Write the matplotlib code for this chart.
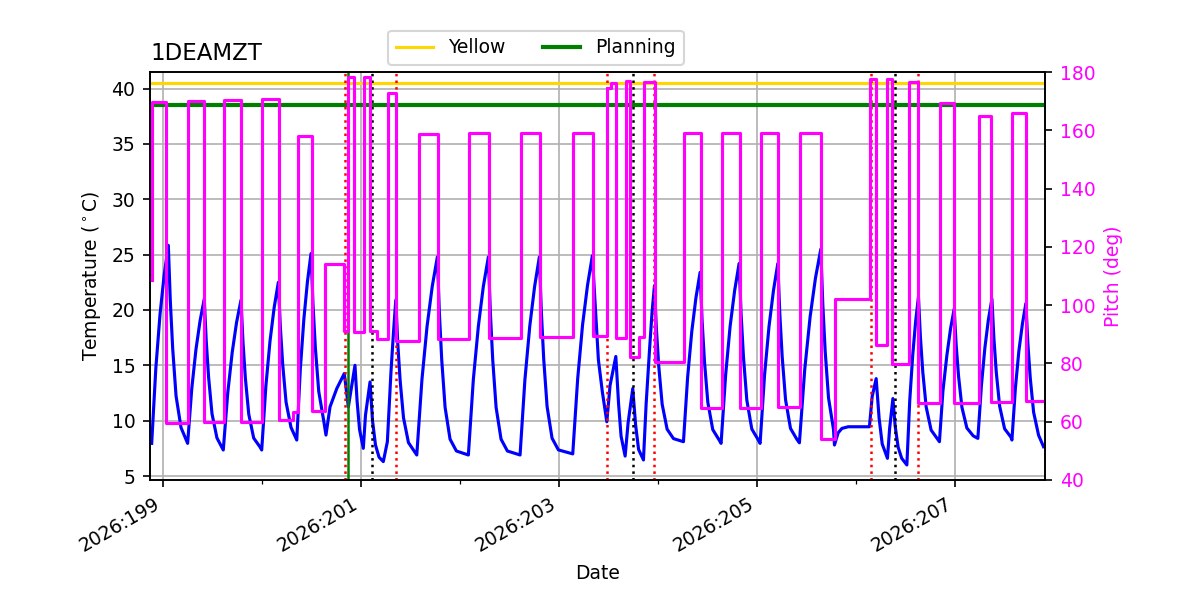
import matplotlib
matplotlib.use("Agg")
import matplotlib.pyplot as plt
from matplotlib.ticker import FuncFormatter

plt.rcParams['font.size'] = 9

# 1DEAMZT temperature, time in day-of-year 2026
temp_time = [198.886, 198.928, 198.970, 199.012, 199.054, 199.074, 199.098, 199.132, 199.182, 199.249,
             199.291, 199.333, 199.375, 199.417, 199.437, 199.461, 199.495, 199.545, 199.609,
             199.654, 199.699, 199.743, 199.788, 199.808, 199.832, 199.866, 199.916, 199.980, 199.997,
             200.039, 200.081, 200.123, 200.165, 200.185, 200.209, 200.243, 200.293, 200.351,
             200.387, 200.423, 200.459, 200.495, 200.515, 200.539, 200.573, 200.623, 200.646,
             200.687, 200.755, 200.831, 200.872, 200.939, 200.960, 200.985, 201.023,
             201.045, 201.091, 201.116, 201.146, 201.182, 201.225, 201.266,
             201.303, 201.328, 201.351, 201.371, 201.395, 201.429, 201.479, 201.543, 201.563,
             201.615, 201.667, 201.719, 201.771, 201.791, 201.815, 201.849, 201.899, 201.963, 202.084,
             202.134, 202.185, 202.235, 202.286, 202.306, 202.330, 202.364, 202.414, 202.478, 202.606,
             202.655, 202.704, 202.753, 202.801, 202.821, 202.845, 202.879, 202.929, 202.993, 203.138,
             203.188, 203.237, 203.287, 203.336, 203.397, 203.437, 203.482,
             203.515, 203.573, 203.601, 203.626, 203.667, 203.697, 203.744,
             203.773, 203.803, 203.852, 203.879, 203.914, 203.939, 203.963,
             203.983, 204.007, 204.041, 204.091, 204.155, 204.256,
             204.298, 204.340, 204.382, 204.424, 204.444, 204.468, 204.502, 204.552, 204.616, 204.636,
             204.682, 204.727, 204.773, 204.818, 204.838, 204.862, 204.896, 204.946, 205.010, 205.030,
             205.075, 205.120, 205.165, 205.209, 205.229, 205.253, 205.287, 205.337, 205.401, 205.427,
             205.481, 205.535, 205.589, 205.643, 205.663, 205.687, 205.721, 205.771, 205.781,
             205.818, 205.856, 205.919, 206.134, 206.162, 206.202, 206.232, 206.263, 206.316,
             206.338, 206.371, 206.394, 206.424, 206.460, 206.512,
             206.541, 206.571, 206.600, 206.629, 206.649, 206.673, 206.707, 206.757, 206.821, 206.841,
             206.876, 206.916, 206.953, 206.990, 207.010, 207.034, 207.068, 207.118, 207.182, 207.229,
             207.265, 207.300, 207.335, 207.371, 207.391, 207.415, 207.449, 207.499, 207.563, 207.573,
             207.608, 207.643, 207.679, 207.714, 207.734, 207.758, 207.792, 207.842, 207.892]
temp_degc = [7.95, 14.75, 19.58, 23.16, 25.84, 20.83, 16.54, 12.24, 9.38, 7.95,
             12.91, 16.43, 19.04, 21.00, 17.18, 13.90, 10.63, 8.44, 7.35,
             12.50, 16.16, 18.87, 20.90, 17.11, 13.85, 10.60, 8.43, 7.62, 7.35,
             13.11, 17.20, 20.23, 22.50, 18.51, 15.09, 11.67, 9.39, 8.25,
             14.65, 19.20, 22.57, 25.10, 20.51, 16.57, 12.64, 10.01, 8.70,
             11.25, 12.90, 14.26, 11.25, 15.00, 11.80, 9.20, 7.50,
             10.50, 13.50, 10.00, 7.80, 6.70, 6.30, 8.10,
             14.50, 18.00, 20.90, 16.98, 13.62, 10.26, 8.02, 7.18, 6.90,
             13.70, 18.54, 22.12, 24.80, 19.79, 15.49, 11.20, 8.33, 7.26, 6.90,
             13.70, 18.54, 22.12, 24.80, 19.79, 15.49, 11.20, 8.33, 7.26, 6.90,
             13.70, 18.54, 22.12, 24.80, 19.82, 15.54, 11.27, 8.42, 7.36, 7.00,
             13.80, 18.64, 22.22, 24.90, 15.50, 12.60, 9.90,
             13.20, 15.80, 11.50, 8.60, 6.80, 9.80, 12.90,
             9.60, 7.40, 6.45, 11.50, 16.50, 19.80, 22.20,
             18.25, 14.87, 11.48, 9.23, 8.38, 8.10,
             13.91, 18.05, 21.10, 23.40, 19.07, 15.37, 11.66, 9.19, 8.26, 7.95,
             14.13, 18.51, 21.76, 24.20, 19.65, 15.75, 11.85, 9.25, 8.28, 7.95,
             14.13, 18.51, 21.76, 24.20, 19.66, 15.78, 11.89, 9.30, 8.32, 8.00,
             14.65, 19.38, 22.88, 25.50, 20.54, 16.30, 12.05, 9.22, 7.80,
             8.90, 9.30, 9.45, 9.45, 12.20, 13.80, 10.20, 7.90, 6.60,
             9.30, 12.00, 9.50, 7.60, 6.60, 6.00,
             11.80, 15.90, 18.90, 21.20, 17.53, 14.39, 11.24, 9.15, 8.36, 8.10,
             12.66, 15.90, 18.30, 20.10, 16.82, 14.02, 11.21, 9.34, 8.63, 8.40,
             13.19, 16.59, 19.11, 21.00, 17.43, 14.37, 11.31, 9.27, 8.51, 8.25,
             12.94, 16.28, 18.75, 20.60, 16.97, 13.87, 10.76, 8.69, 7.65]

# pitch: value holds from each time until the next one
pitch_time = [198.886, 198.894, 199.035, 199.255, 199.419, 199.614, 199.783, 200.002, 200.170, 200.318,
              200.366, 200.500, 200.641, 200.833, 200.865, 200.926, 201.034, 201.087, 201.157, 201.270,
              201.355, 201.584, 201.776, 202.089, 202.291, 202.611, 202.806, 203.143, 203.341, 203.486,
              203.520, 203.577, 203.678, 203.721, 203.804, 203.856, 203.965, 204.261, 204.429, 204.641,
              204.823, 205.035, 205.214, 205.432, 205.641, 205.786, 206.138, 206.196, 206.314, 206.365,
              206.532, 206.627, 206.846, 206.988, 207.240, 207.366, 207.578, 207.712, 207.892]
pitch_deg = [108.6, 169.6, 59.7, 170.2, 60.0, 170.5, 60.0, 170.9, 60.6, 63.4,
             158.0, 63.7, 114.1, 91.2, 178.2, 90.9, 178.2, 91.2, 88.3, 172.7,
             87.8, 158.7, 88.3, 159.0, 88.6, 159.0, 89.0, 159.0, 89.4, 174.4,
             176.3, 88.6, 177.0, 82.3, 89.2, 176.7, 80.6, 159.0, 64.6, 159.0,
             64.6, 159.0, 65.2, 159.0, 54.1, 102.0, 177.6, 86.3, 177.6, 79.8,
             176.7, 66.3, 169.5, 66.5, 165.0, 66.9, 166.0, 67.1, 67.1]

yellow_limit = 40.5
planning_limit = 38.5

red_times = [200.835, 201.357, 203.488, 203.960, 206.148, 206.629]
black_times = [201.114, 203.751, 206.397]
green_times = [200.872]

major_days = [199, 201, 203, 205, 207]
minor_days = [200, 202, 204, 206]

fig, ax = plt.subplots(figsize=(8, 4), dpi=150)

ax.plot(temp_time, temp_degc, color='blue', lw=1.5)
ax.axhline(yellow_limit, color='gold', lw=1.5, label='Yellow')
ax.axhline(planning_limit, color='green', lw=2, label='Planning')
for t in red_times:
    ax.axvline(t, color='red', ls=':', lw=1.2)
for t in black_times:
    ax.axvline(t, color='black', ls=':', lw=1.2)
for t in green_times:
    ax.axvline(t, color='green', lw=1.2)

ax.set_xlim(198.869, 207.909)
ax.set_ylim(4.64, 41.5)
ax.set_xticks(major_days)
ax.set_xticks(minor_days, minor=True)
ax.xaxis.set_major_formatter(FuncFormatter(lambda v, p: f"2026:{int(round(v)):03d}"))
ax.set_yticks(range(5, 45, 5))
ax.grid(True)
ax.set_xlabel('Date')
ax.set_ylabel('Temperature ($^\\circ$C)')
ax.set_title('1DEAMZT', loc='left', fontsize=11)
ax.legend(loc='lower center', bbox_to_anchor=(0.431, 0.995), ncol=2)

ax2 = ax.twinx()
ax2.plot(pitch_time, pitch_deg, color='magenta', lw=1.5, drawstyle='steps-post')
ax2.set_ylim(40, 180)
ax2.set_ylabel('Pitch (deg)', color='magenta')
ax2.tick_params(axis='y', labelcolor='magenta')

for lbl in ax.get_xticklabels():
    lbl.set_rotation(30)
    lbl.set_ha('right')

fig.subplots_adjust(left=0.125, right=0.871, bottom=0.2, top=0.88)
fig.savefig('out.png', dpi=150)
